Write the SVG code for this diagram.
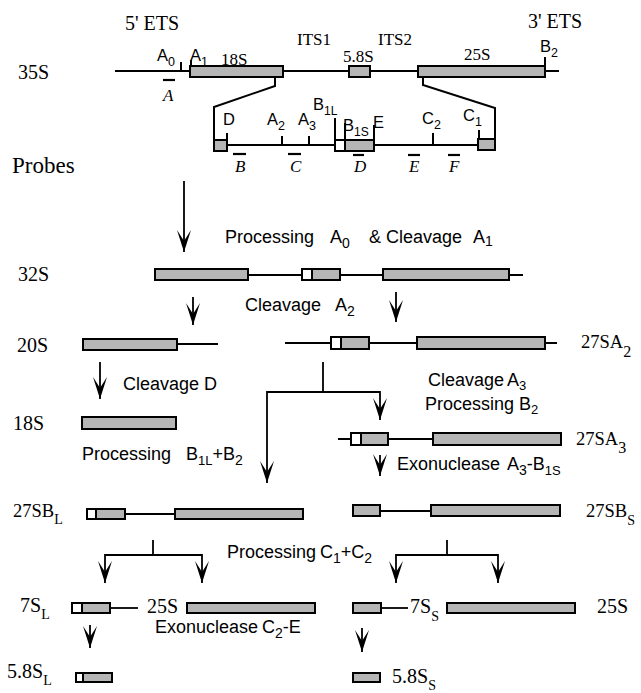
<svg xmlns="http://www.w3.org/2000/svg" width="641" height="693" viewBox="0 0 641 693">
<style>
.t{font-family:"Liberation Serif","Times New Roman",serif;font-size:20px;fill:#000}
.tn{font-family:"Liberation Serif","Times New Roman",serif;font-size:18.5px;fill:#000}
.ts{font-family:"Liberation Serif","Times New Roman",serif;font-size:17px;fill:#000}
.ti{font-family:"Liberation Serif","Times New Roman",serif;font-size:17px;font-style:italic;fill:#000}
.s{font-family:"Liberation Sans",Arial,sans-serif;font-size:18px;fill:#000}
.sm{font-family:"Liberation Sans",Arial,sans-serif;font-size:16.5px;fill:#000}
.g{fill:#b5b5b5;stroke:#000;stroke-width:2}
.w{fill:#fff;stroke:#000;stroke-width:2}
.ln{stroke:#000;stroke-width:1.8;fill:none}
.tk{stroke:#000;stroke-width:2;fill:none}
.pb{stroke:#000;stroke-width:2.2}
.ar{stroke:#000;stroke-width:1.8;fill:none;marker-end:url(#ah)}
</style>
<defs>
<marker id="ah" markerUnits="userSpaceOnUse" markerWidth="26" markerHeight="18" viewBox="-23 -9 24 18" refX="0" refY="0" orient="auto">
<path d="M0,0 L-22,-7 L-11,0 L-22,7 Z" fill="#000"/>
</marker>
</defs>

<g id="precursor-35S">
<text class="t" x="125" y="30">5' ETS</text>
<text class="t" x="528" y="28">3' ETS</text>
<text class="ts" x="297" y="45">ITS1</text>
<text class="ts" x="378" y="45">ITS2</text>
<text class="t" x="18" y="79">35S</text>
<line class="ln" x1="115" y1="71" x2="559" y2="71"/>
<line class="tk" x1="181" y1="62" x2="181" y2="71"/>
<text class="sm" x="157" y="61">A<tspan dy="5" font-size="12.5">0</tspan></text>
<line class="tk" x1="191" y1="60" x2="191" y2="67"/>
<text class="sm" x="190" y="61">A<tspan dy="5" font-size="12.5">1</tspan></text>
<rect class="g" x="190" y="66" width="93" height="11"/>
<text class="ts" x="221" y="65">18S</text>
<rect class="g" x="349" y="66" width="21" height="11"/>
<text class="ts" x="343" y="62">5.8S</text>
<rect class="g" x="418" y="66" width="127" height="11"/>
<text class="ts" x="464" y="60">25S</text>
<line class="tk" x1="545" y1="57" x2="545" y2="66"/>
<text class="sm" x="540" y="52">B<tspan dy="5" font-size="12.5">2</tspan></text>
<line class="pb" x1="163" y1="80" x2="175" y2="80"/>
<text class="ti" x="163" y="101">A</text>
</g>

<g id="expanded-ITS">
<path class="tk" d="M275,77 L275,86 L214,107 L214,141"/>
<path class="tk" d="M423,77 L423,85 L495,108 L495,139"/>
<line class="ln" x1="227" y1="145" x2="478" y2="145"/>
<rect class="g" x="214" y="140" width="13" height="11"/>
<rect class="g" x="478" y="139" width="17" height="11"/>
<line class="tk" x1="227" y1="133" x2="227" y2="141"/>
<text class="sm" x="223" y="125">D</text>
<line class="tk" x1="282" y1="136" x2="282" y2="145"/>
<text class="sm" x="267" y="125">A<tspan dy="5" font-size="12.5">2</tspan></text>
<line class="tk" x1="309" y1="136" x2="309" y2="145"/>
<text class="sm" x="298" y="125">A<tspan dy="5" font-size="12.5">3</tspan></text>
<rect class="w" x="335" y="140" width="10" height="11"/>
<rect class="g" x="345" y="140" width="29" height="11"/>
<line class="tk" x1="335" y1="118" x2="335" y2="140"/>
<text class="sm" x="313" y="110">B<tspan dy="5" font-size="12">1L</tspan></text>
<line class="tk" x1="345" y1="123" x2="345" y2="140"/>
<text class="sm" x="343" y="131">B<tspan dy="5" font-size="12">1S</tspan></text>
<line class="tk" x1="374" y1="125" x2="374" y2="140"/>
<text class="sm" x="373" y="128">E</text>
<line class="tk" x1="433" y1="133" x2="433" y2="145"/>
<text class="sm" x="422" y="124">C<tspan dy="5" font-size="12.5">2</tspan></text>
<line class="tk" x1="479" y1="130" x2="479" y2="139"/>
<text class="sm" x="463" y="121">C<tspan dy="5" font-size="12.5">1</tspan></text>
</g>

<g id="probes">
<text x="12" y="173" style="font-family:'Liberation Serif','Times New Roman',serif;font-size:23px">Probes</text>
<line class="pb" x1="233" y1="154" x2="246" y2="154"/>
<text class="ti" x="235" y="172">B</text>
<line class="pb" x1="288" y1="154" x2="301" y2="154"/>
<text class="ti" x="290" y="172">C</text>
<line class="pb" x1="353" y1="155" x2="364" y2="155"/>
<text class="ti" x="354" y="172">D</text>
<line class="pb" x1="408" y1="155" x2="420" y2="155"/>
<text class="ti" x="409" y="172">E</text>
<line class="pb" x1="448" y1="155" x2="460" y2="155"/>
<text class="ti" x="449" y="172">F</text>
</g>

<g id="step-labels">
<text class="s" x="225" y="243">Processing<tspan x="330">A</tspan><tspan dy="5" font-size="14">0</tspan><tspan x="369" dy="-5">&amp; Cleavage</tspan><tspan x="473">A</tspan><tspan dy="3" font-size="14">1</tspan></text>
<text class="s" x="245" y="311">Cleavage<tspan x="335">A</tspan><tspan dy="5" font-size="14">2</tspan></text>
<text class="s" x="123" y="390">Cleavage D</text>
<text class="s" x="428" y="386" font-size="17">Cleavage<tspan x="507">A</tspan><tspan dy="4" font-size="13">3</tspan></text>
<text class="s" x="425" y="410" font-size="17">Processing<tspan x="519">B</tspan><tspan dy="4" font-size="13">2</tspan></text>
<text class="s" x="82" y="460">Processing<tspan x="186">B</tspan><tspan dy="5" font-size="13">1L</tspan><tspan dy="-5">+B</tspan><tspan dy="5" font-size="14">2</tspan></text>
<text class="s" x="397" y="470">Exonuclease<tspan x="507">A</tspan><tspan dy="5" font-size="14">3</tspan><tspan dy="-5">-B</tspan><tspan dy="5" font-size="13">1S</tspan></text>
<text class="s" x="227" y="558">Processing<tspan x="320">C</tspan><tspan dy="5" font-size="14">1</tspan><tspan dy="-5">+C</tspan><tspan dy="5" font-size="14">2</tspan></text>
<text class="s" x="155" y="633">Exonuclease<tspan x="262">C</tspan><tspan dy="5" font-size="14">2</tspan><tspan dy="-5">-E</tspan></text>
</g>

<g id="connectors">
<line class="ar" x1="184" y1="181" x2="184" y2="252"/>
<line class="ar" x1="193" y1="297" x2="193" y2="325"/>
<line class="ar" x1="396" y1="292" x2="396" y2="322"/>
<line class="ar" x1="100" y1="362" x2="100" y2="399"/>
<path class="ln" d="M323,362 L323,392 M267,392 L380,392"/>
<line class="ar" x1="380" y1="391" x2="380" y2="420"/>
<line class="ar" x1="267" y1="391" x2="267" y2="483"/>
<line class="ar" x1="380" y1="455" x2="380" y2="476"/>
<path class="ln" d="M153,540 L153,555 M105,555 L202,555"/>
<line class="ar" x1="105" y1="554" x2="105" y2="583"/>
<line class="ar" x1="202" y1="554" x2="202" y2="583"/>
<path class="ln" d="M447,540 L447,555 M396,555 L498,555"/>
<line class="ar" x1="396" y1="554" x2="396" y2="583"/>
<line class="ar" x1="498" y1="554" x2="498" y2="583"/>
<line class="ar" x1="90" y1="625" x2="90" y2="648"/>
<line class="ar" x1="362" y1="628" x2="362" y2="652"/>
</g>

<g id="n32S">
<text class="t" x="18" y="281">32S</text>
<line class="ln" x1="248" y1="275" x2="523" y2="275"/>
<rect class="g" x="155" y="269" width="93" height="11"/>
<rect class="w" x="302" y="269" width="10" height="11"/>
<rect class="g" x="312" y="269" width="28" height="11"/>
<rect class="g" x="383" y="269" width="126" height="11"/>
</g>

<g id="n20S">
<text class="t" x="17" y="352">20S</text>
<line class="ln" x1="177" y1="344" x2="218" y2="344"/>
<rect class="g" x="83" y="339" width="94" height="11"/>
</g>

<g id="n27SA2">
<line class="ln" x1="285" y1="343" x2="557" y2="343"/>
<rect class="w" x="331" y="337" width="10" height="12"/>
<rect class="g" x="341" y="337" width="28" height="12"/>
<rect class="g" x="417" y="337" width="128" height="12"/>
<text class="tn" x="581" y="348">27SA<tspan dy="9" font-size="16">2</tspan></text>
</g>

<g id="n18S">
<text class="t" x="13" y="430">18S</text>
<rect class="g" x="82" y="417" width="94" height="12"/>
</g>

<g id="n27SA3">
<line class="ln" x1="338" y1="439" x2="433" y2="439"/>
<rect class="w" x="351" y="433" width="10" height="12"/>
<rect class="g" x="361" y="433" width="27" height="12"/>
<rect class="g" x="433" y="433" width="128" height="12"/>
<text class="tn" x="576" y="445">27SA<tspan dy="8" font-size="16">3</tspan></text>
</g>

<g id="n27SBL">
<text class="tn" x="13" y="517">27SB<tspan dy="7" font-size="14">L</tspan></text>
<line class="ln" x1="125" y1="514" x2="175" y2="514"/>
<rect class="w" x="87" y="509" width="9" height="10"/>
<rect class="g" x="96" y="509" width="29" height="10"/>
<rect class="g" x="175" y="509" width="128" height="10"/>
</g>

<g id="n27SBS">
<line class="ln" x1="380" y1="511" x2="431" y2="511"/>
<rect class="g" x="353" y="505" width="27" height="11"/>
<rect class="g" x="431" y="505" width="129" height="11"/>
<text class="tn" x="586" y="517">27SB<tspan dy="8" font-size="14">S</tspan></text>
</g>

<g id="n7SL">
<text class="t" x="20" y="612">7S<tspan dy="7" font-size="14">L</tspan></text>
<line class="ln" x1="110" y1="608" x2="138" y2="608"/>
<rect class="w" x="72" y="603" width="10" height="10"/>
<rect class="g" x="82" y="603" width="28" height="10"/>
<text class="t" x="147" y="613">25S</text>
<rect class="g" x="187" y="603" width="128" height="10"/>
</g>

<g id="n7SS">
<line class="ln" x1="381" y1="608" x2="408" y2="608"/>
<rect class="g" x="353" y="603" width="28" height="10"/>
<text class="t" x="410" y="613">7S<tspan dy="8" font-size="14">S</tspan></text>
<rect class="g" x="447" y="603" width="128" height="10"/>
<text class="t" x="597" y="613">25S</text>
</g>

<g id="n58SL">
<text class="t" x="7" y="678">5.8S<tspan dy="7" font-size="14">L</tspan></text>
<rect class="w" x="76" y="673" width="7" height="9"/>
<rect class="g" x="83" y="673" width="29" height="9"/>
</g>

<g id="n58SS">
<rect class="g" x="353" y="673" width="27" height="9"/>
<text class="t" x="392" y="683">5.8S<tspan dy="7" font-size="14">S</tspan></text>
</g>
</svg>
